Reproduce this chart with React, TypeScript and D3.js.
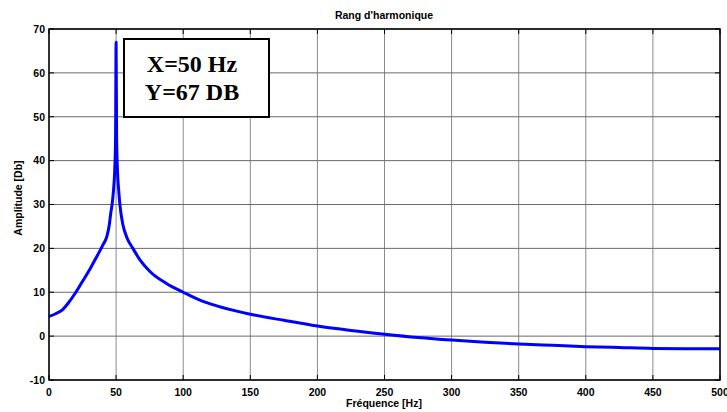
import React from "react";
import * as d3 from "d3";

const freqs = [0, 5, 10, 15, 20, 25, 30, 35, 38, 40, 43, 45, 46, 47, 48, 49, 49.6, 50, 50.4, 51, 52, 53, 55, 58, 62.5, 67.5, 75, 87.5, 100, 112.5, 125, 150, 175, 200, 225, 250, 275, 300, 325, 350, 375, 400, 425, 450, 475, 500];
const amps = [4.5, 5.1, 6.0, 7.8, 10, 12.5, 15, 17.8, 19.5, 20.7, 22.6, 25.5, 28, 30, 33, 38, 45, 67, 45, 38, 33, 29.5, 25.5, 22.5, 20, 17.5, 14.8, 12, 10, 8.2, 6.9, 5, 3.6, 2.3, 1.3, 0.45, -0.3, -0.9, -1.4, -1.8, -2.1, -2.4, -2.6, -2.8, -2.85, -2.9];
const xTicks = [0, 50, 100, 150, 200, 250, 300, 350, 400, 450, 500];
const yTicks = [-10, 0, 10, 20, 30, 40, 50, 60, 70];
const annotLines = ["X=50 Hz", "Y=67 DB"];

export default function App() {
  const W = 727, H = 412;
  const L = 49, R = 720, T = 29, B = 380;
  const x = d3.scaleLinear().domain([0, 500]).range([L, R]);
  const y = d3.scaleLinear().domain([-10, 70]).range([B, T]);
  const line = d3.line<number>().x((_, i) => x(freqs[i])).y((d) => y(d)).curve(d3.curveMonotoneX);
  const font = "'Liberation Sans', Arial, sans-serif";
  return (
    <svg width={W} height={H} style={{ position: "absolute", left: 0, top: 0, background: "#fff" }}>
      <rect width={W} height={H} fill="#fff" />
      {xTicks.map((t) => (
        <line key={"gx" + t} x1={x(t)} x2={x(t)} y1={T} y2={B} stroke="#8a8a8a" strokeWidth={1} />
      ))}
      {yTicks.map((t) => (
        <line key={"gy" + t} x1={L} x2={R} y1={y(t)} y2={y(t)} stroke="#6a6a6a" strokeWidth={1} />
      ))}
      {xTicks.map((t) => (
        <g key={"tx" + t}>
          <line x1={x(t)} x2={x(t)} y1={B} y2={B - 5} stroke="#000" />
          <line x1={x(t)} x2={x(t)} y1={T} y2={T + 5} stroke="#000" />
          <text x={x(t)} y={396} textAnchor="middle" fontFamily={font} fontWeight="bold" fontSize={10.5}>{t}</text>
        </g>
      ))}
      {yTicks.map((t) => (
        <g key={"ty" + t}>
          <line x1={L} x2={L + 5} y1={y(t)} y2={y(t)} stroke="#000" />
          <line x1={R} x2={R - 5} y1={y(t)} y2={y(t)} stroke="#000" />
          <text x={L - 4} y={y(t) + 3.8} textAnchor="end" fontFamily={font} fontWeight="bold" fontSize={10.5}>{t}</text>
        </g>
      ))}
      <path d={line(amps) || ""} fill="none" stroke="#0000ff" strokeWidth={3} strokeLinejoin="round" />
      <rect x={L} y={T} width={R - L} height={B - T} fill="none" stroke="#000" strokeWidth={1.5} />
      <rect x={124} y={39} width={145} height={78} fill="#fff" stroke="#000" strokeWidth={2} />
      {annotLines.map((s, i) => (
        <text key={s} x={192} y={72 + i * 28} textAnchor="middle" fontFamily="'Liberation Serif', 'Times New Roman', serif" fontWeight="bold" fontSize={24}>{s}</text>
      ))}
      <text x={384} y={19} textAnchor="middle" fontFamily={font} fontWeight="bold" fontSize={10.5}>Rang d'harmonique</text>
      <text x={384} y={407} textAnchor="middle" fontFamily={font} fontWeight="bold" fontSize={10.5}>Fréquence [Hz]</text>
      <text transform={`translate(22,198) rotate(-90)`} textAnchor="middle" fontFamily={font} fontWeight="bold" fontSize={10.5}>Amplitude [Db]</text>
    </svg>
  );
}
